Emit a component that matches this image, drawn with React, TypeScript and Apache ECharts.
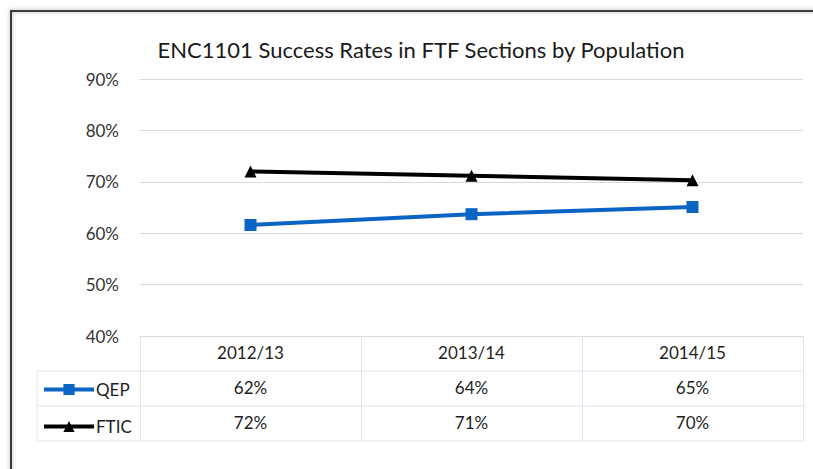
import React, { useEffect, useRef } from "react";
import * as echarts from "echarts";

const TITLE = "ENC1101 Success Rates in FTF Sections by Population";
const categories = ["2012/13", "2013/14", "2014/15"];
const seriesNames = ["QEP", "FTIC"];
const qepValues = [61.6, 63.7, 65.1];
const fticValues = [72.0, 71.2, 70.3];
const yTicks = { min: 40, max: 90, interval: 10 };

const FONT = "Lato, 'Open Sans', sans-serif";
const TABLE_LINE = "#dfe6ee";

export default function App() {
  const ref = useRef<HTMLDivElement>(null);
  useEffect(() => {
    if (!ref.current) return;
    const chart = echarts.init(ref.current, undefined, { renderer: "svg" });
    const pct = (arr: number[]) => (_v: string, i: number) => `${Math.round(arr[i])}%`;
    const rowAxis = (offset: number, arr: number[] | null) => ({
      type: "category",
      data: categories,
      position: "bottom",
      offset,
      gridIndex: 0,
      axisLine: { show: false },
      axisTick: { show: false },
      splitLine: { show: false },
      axisLabel: {
        show: arr !== null,
        interval: 0,
        margin: 8,
        fontSize: 17,
        fontFamily: FONT,
        color: "#1e1e1e",
        formatter: arr ? pct(arr) : undefined,
      },
    });
    chart.setOption({
      animation: false,
      backgroundColor: "#fff",
      title: {
        text: TITLE,
        left: 416,
        textAlign: "center",
        top: 33,
        textStyle: { fontSize: 22, fontWeight: "normal", fontFamily: FONT, color: "#1a1a1a" },
      },
      grid: { left: 140, right: 10, top: 79, bottom: 133, containLabel: false },
      legend: {
        data: seriesNames,
        orient: "vertical",
        left: 42,
        top: 381,
        padding: 0,
        itemWidth: 50,
        itemHeight: 14,
        itemGap: 20,
        lineStyle: { width: 4 },
        textStyle: { fontSize: 17, fontFamily: FONT, color: "#1e1e1e", padding: [0, 0, 0, -3] },
      },
      xAxis: [
        {
          type: "category",
          data: categories,
          boundaryGap: true,
          axisLine: { show: true, lineStyle: { color: "#d9d9d9", width: 1 } },
          axisTick: { show: true, interval: 0, length: 105, lineStyle: { color: TABLE_LINE } },
          axisLabel: { interval: 0, margin: 8, fontSize: 17, fontFamily: FONT, color: "#1e1e1e" },
          splitLine: { show: false },
        },
        rowAxis(35, qepValues),
        rowAxis(70, fticValues),
      ],
      yAxis: {
        type: "value",
        min: yTicks.min,
        max: yTicks.max,
        interval: yTicks.interval,
        axisLine: { show: false },
        axisTick: { show: false },
        axisLabel: { formatter: "{value}%", margin: 21, fontSize: 17, fontFamily: FONT, color: "#333" },
        splitLine: { lineStyle: { color: "#d9d9d9", width: 1 } },
      },
      series: [
        {
          name: seriesNames[0],
          type: "line",
          data: qepValues,
          xAxisIndex: 0,
          symbol: "rect",
          symbolSize: 12,
          lineStyle: { color: "#0a64c4", width: 4 },
          itemStyle: { color: "#0a64c4" },
        },
        {
          name: seriesNames[1],
          type: "line",
          data: fticValues,
          xAxisIndex: 0,
          symbol: "triangle",
          symbolSize: 12,
          lineStyle: { color: "#000", width: 4 },
          itemStyle: { color: "#000" },
        },
      ],
      graphic: [
        {
          type: "rect",
          shape: { x: 11, y: 11, width: 900, height: 600 },
          style: { fill: "none", stroke: "#3a3a3a", lineWidth: 2, shadowBlur: 4, shadowColor: "rgba(0,0,0,0.35)" },
          silent: true,
        },
        ...[371, 406, 441].map((y) => ({
          type: "line",
          shape: { x1: 37, y1: y, x2: 803, y2: y },
          style: { stroke: TABLE_LINE, lineWidth: 1 },
          silent: true,
        })),
        {
          type: "line",
          shape: { x1: 37, y1: 371, x2: 37, y2: 441 },
          style: { stroke: TABLE_LINE, lineWidth: 1 },
          silent: true,
        },
      ],
    });
    return () => chart.dispose();
  }, []);
  return <div ref={ref} style={{ position: "fixed", left: 0, top: 0, width: 813, height: 469 }} />;
}
